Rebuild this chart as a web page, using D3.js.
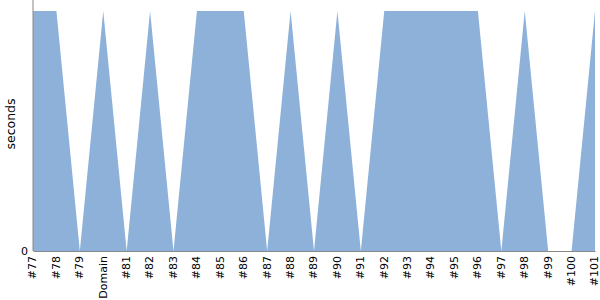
<!DOCTYPE html>
<html>
<head>
<meta charset="utf-8">
<script src="https://cdn.jsdelivr.net/npm/d3@7"></script>
<style>
  body { margin: 0; background: #fff; }
  svg { font-family: "DejaVu Sans", sans-serif; font-size: 11px; }
</style>
</head>
<body>
<div id="chart"></div>
<script>
var categories = ["#77","#78","#79","Domain","#81","#82","#83","#84","#85","#86","#87","#88","#89",
                  "#90","#91","#92","#93","#94","#95","#96","#97","#98","#99","#100","#101"];
var seconds = [1,1,0,1,0,1,0,1,1,1,0,1,0,1,0,1,1,1,1,1,0,1,0,0,1];
var yTicks = [0];

var svgWidth = 600, svgHeight = 300;
var margin = {top: 11, right: 5, bottom: 49, left: 33};
var width = svgWidth - margin.left - margin.right;
var height = svgHeight - margin.top - margin.bottom;

var svg = d3.select("#chart").append("svg")
  .attr("width", svgWidth)
  .attr("height", svgHeight);

var g = svg.append("g")
  .attr("transform", `translate(${margin.left}, ${margin.top})`);

var xScale = d3.scalePoint()
  .domain(categories)
  .range([0, width]);

var yScale = d3.scaleLinear()
  .domain([0, 1])
  .range([height, 0]);

var area = d3.area()
  .x((d, i) => xScale(categories[i]))
  .y0(height)
  .y1(d => yScale(d));

g.append("path")
  .datum(seconds)
  .attr("d", area)
  .attr("fill", "#8eb1da");

// x axis
var xAxis = g.append("g")
  .attr("transform", `translate(0, ${height})`)
  .call(d3.axisBottom(xScale).tickSize(0));
xAxis.select(".domain").attr("stroke", "#888");
xAxis.selectAll("text")
  .style("font-size", "11px")
  .style("font-family", "DejaVu Sans, sans-serif")
  .attr("fill", "#000")
  .attr("transform", "rotate(-90)")
  .attr("text-anchor", "end")
  .attr("x", -5)
  .attr("y", -1)
  .attr("dy", "0.35em");

// y axis
var yAxis = g.append("g")
  .call(d3.axisLeft(yScale).tickValues(yTicks).tickFormat(d3.format("d")).tickSize(0).tickPadding(5));
yAxis.select(".domain").remove();
yAxis.selectAll("text")
  .style("font-size", "11px")
  .style("font-family", "DejaVu Sans, sans-serif")
  .attr("fill", "#000");
g.append("line")
  .attr("x1", 0).attr("x2", 0)
  .attr("y1", -margin.top).attr("y2", height)
  .attr("stroke", "#888");

g.append("text")
  .attr("transform", "rotate(-90)")
  .attr("x", -113)
  .attr("y", -18)
  .attr("text-anchor", "middle")
  .attr("fill", "#000")
  .style("font-size", "12.5px")
  .text("seconds");
</script>
</body>
</html>
